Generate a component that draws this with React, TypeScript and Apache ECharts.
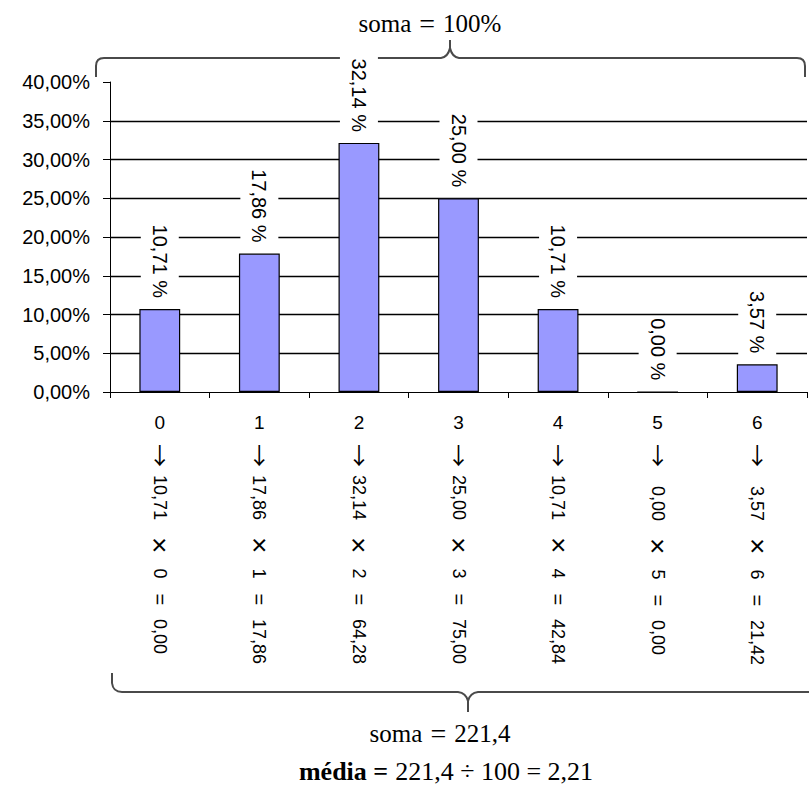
import React, { useEffect, useRef } from 'react';
import * as echarts from 'echarts';

// ---- data ----
const categories = ['0', '1', '2', '3', '4', '5', '6'];
const percentages = [10.71, 17.86, 32.14, 25.0, 10.71, 0.0, 3.57];
const products = [0.0, 17.86, 64.28, 75.0, 42.84, 0.0, 21.42];
const yMin = 0;
const yMax = 40;
const yInterval = 5;
const topSum = ['soma', '=', '100%'];
const bottomSum = ['soma', '=', '221,4'];
const meanLabel = 'média =';
const meanFormula = '221,4 ÷ 100 = 2,21';

const fmt = (v: number) => v.toFixed(2).replace('.', ',');

const SANS = '"Liberation Sans", Arial, sans-serif';
const SERIF = '"Liberation Serif", "Times New Roman", serif';

let shapesRegistered = false;
function registerShapes() {
  if (shapesRegistered) return;
  shapesRegistered = true;
  echarts.graphic.registerShape(
    'braceTop',
    echarts.graphic.extendPath(
      'M0 37 L0 26 Q0 18 8 18 L345 18 Q352 17 354 8 Q356 17 363 18 L701 18 Q709 18 709 26 L709 37 M354 8 L354 0',
      {}
    )
  );
  echarts.graphic.registerShape(
    'braceBottom',
    echarts.graphic.extendPath(
      'M0 0 L0 10 Q1 19 10 19 L346 19 Q354 20 356 28 Q358 20 366 19 L700 19 M356 28 L356 39',
      {}
    )
  );
}

export default function App() {
  const ref = useRef<HTMLDivElement>(null);

  useEffect(() => {
    if (!ref.current) return;
    registerShapes();
    const chart = echarts.init(ref.current, undefined, { renderer: 'svg' });

    const splitColors: string[] = [];
    const nLines = Math.round((yMax - yMin) / yInterval) + 1;
    for (let i = 0; i < nLines; i++) {
      splitColors.push(i === 0 || i === nLines - 1 ? 'transparent' : '#000');
    }

    const sumRich = {
      s: { fontFamily: SERIF, fontSize: 25, color: '#000' },
      e: { fontFamily: SERIF, fontSize: 28, color: '#000', padding: [0, 8, 0, 8] },
      n: { fontFamily: SERIF, fontSize: 25, color: '#000' },
    };

    chart.setOption({
      animation: false,
      backgroundColor: '#fff',
      grid: { left: 110, right: 2, top: 82, bottom: 398, containLabel: false },
      xAxis: [
        {
          type: 'category',
          data: categories,
          position: 'bottom',
          boundaryGap: true,
          axisLine: { show: true, lineStyle: { color: '#000', width: 1 } },
          axisTick: { show: true, length: 6, interval: 0, lineStyle: { color: '#000' } },
          splitLine: { show: false },
          axisLabel: {
            interval: 0,
            margin: 15,
            hideOverlap: false,
            formatter: (v: string) => `{n|${v}}\n{a|↓}`,
            rich: {
              n: { fontFamily: SANS, fontSize: 19, lineHeight: 31, color: '#000' },
              a: { fontFamily: '"Noto Sans CJK SC", "DejaVu Sans", sans-serif', fontSize: 23, lineHeight: 31, color: '#000' },
            },
          },
        },
        {
          type: 'category',
          data: categories,
          position: 'bottom',
          gridIndex: 0,
          boundaryGap: true,
          axisLine: { show: false },
          axisTick: { show: false },
          splitLine: { show: false },
          axisLabel: {
            interval: 0,
            rotate: -90,
            margin: 83,
            align: 'left',
            verticalAlign: 'middle',
            hideOverlap: false,
            formatter: (v: string, i: number) => {
              const p = fmt(percentages[i]);
              const pStyle = p.length < 5 ? 'ps' : 'p';
              return `{${pStyle}|${p}}{x|×}{k|${v}}{e|=}{r|${fmt(products[i])}}`;
            },
            rich: {
              p: { fontFamily: SANS, fontSize: 18, color: '#000' },
              ps: { fontFamily: SANS, fontSize: 18, color: '#000', padding: [0, 0, 0, 11] },
              x: { fontFamily: SANS, fontSize: 28, color: '#000', padding: [0, 15, 0, 17] },
              k: { fontFamily: SANS, fontSize: 18, color: '#000' },
              e: { fontFamily: SANS, fontSize: 20, color: '#000', padding: [0, 14, 0, 15] },
              r: { fontFamily: SANS, fontSize: 18, color: '#000' },
            },
          },
        },
      ],
      yAxis: {
        type: 'value',
        min: yMin,
        max: yMax,
        interval: yInterval,
        axisLine: { show: true, lineStyle: { color: '#000', width: 1 } },
        axisTick: { show: true, length: 7, lineStyle: { color: '#000' } },
        splitLine: { show: true, lineStyle: { color: splitColors, width: 1.3 } },
        axisLabel: {
          margin: 20,
          fontFamily: SANS,
          fontSize: 20,
          color: '#000',
          formatter: (v: number) => `${fmt(v)}%`,
        },
      },
      series: [
        {
          type: 'bar',
          xAxisIndex: 0,
          data: percentages,
          barWidth: '41%',
          itemStyle: { color: '#9999FF', borderColor: '#000', borderWidth: 1.2 },
          label: {
            show: true,
            position: 'top',
            distance: 9,
            rotate: -90,
            align: 'right',
            verticalAlign: 'middle',
            fontFamily: SANS,
            fontSize: 20,
            color: '#000',
            backgroundColor: '#fff',
            padding: [9, 2, 9, 2],
            formatter: (p: any) => `${fmt(p.value)} %`,
          },
        },
      ],
      graphic: [
        {
          type: 'braceTop',
          x: 96,
          y: 40,
          silent: true,
          style: { stroke: '#4a4a4a', lineWidth: 2, fill: 'none' },
        },
        {
          type: 'braceBottom',
          x: 112,
          y: 673,
          silent: true,
          style: { stroke: '#4a4a4a', lineWidth: 2, fill: 'none' },
        },
        {
          type: 'text',
          x: 430,
          y: 23,
          style: {
            text: `{s|${topSum[0]}}{e|${topSum[1]}}{n|${topSum[2]}}`,
            rich: sumRich,
            align: 'center',
            verticalAlign: 'middle',
          },
        },
        {
          type: 'text',
          x: 440,
          y: 733,
          style: {
            text: `{s|${bottomSum[0]}}{e|${bottomSum[1]}}{n|${bottomSum[2]}}`,
            rich: sumRich,
            align: 'center',
            verticalAlign: 'middle',
          },
        },
        {
          type: 'text',
          x: 446,
          y: 771,
          style: {
            text: `{b|${meanLabel}}{n|${meanFormula}}`,
            rich: {
              b: { fontFamily: SERIF, fontSize: 26, fontWeight: 'bold', color: '#000' },
              n: { fontFamily: SERIF, fontSize: 26, color: '#000', padding: [0, 0, 0, 7] },
            },
            align: 'center',
            verticalAlign: 'middle',
          },
        },
      ],
    });

    return () => {
      chart.dispose();
    };
  }, []);

  return (
    <div
      ref={ref}
      style={{ position: 'fixed', left: 0, top: 0, width: 809, height: 790, background: '#fff' }}
    />
  );
}
